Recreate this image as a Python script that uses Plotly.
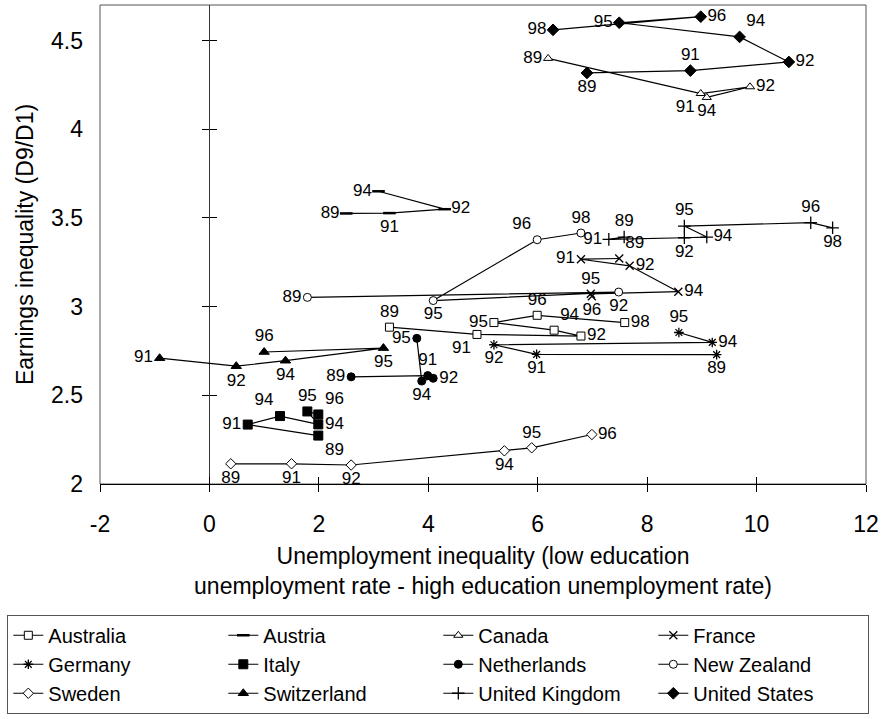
import plotly.graph_objects as go

# ---------------- data ----------------
australia_years = ["89", "91", "92", "94", "95", "96", "98"]
australia_x = [3.29, 4.89, 6.79, 6.30, 5.20, 5.99, 7.59]
australia_y = [2.884, 2.843, 2.834, 2.867, 2.910, 2.951, 2.910]

austria_years = ["89", "91", "92", "94"]
austria_x = [2.50, 3.29, 4.30, 3.09]
austria_y = [3.525, 3.527, 3.549, 3.650]

canada_years = ["89", "91", "92", "94"]
canada_x = [6.19, 8.98, 9.88, 9.09]
canada_y = [4.399, 4.201, 4.239, 4.179]

france_years = ["89", "91", "92", "94", "95", "96"]
france_x = [7.49, 6.79, 7.68, 8.57, 6.97, 6.99]
france_y = [3.271, 3.267, 3.230, 3.084, 3.072, 3.058]

germany_years = ["89", "91", "92", "94", "95"]
germany_x = [9.27, 5.98, 5.20, 9.19, 8.58]
germany_y = [2.729, 2.731, 2.785, 2.798, 2.854]

italy_years = ["89", "91", "94", "94", "95", "96"]
italy_x = [1.99, 0.70, 1.29, 1.99, 1.79, 1.99]
italy_y = [2.273, 2.335, 2.383, 2.336, 2.409, 2.392]

netherlands_years = ["89", "91", "92", "94", "95"]
netherlands_x = [2.59, 3.99, 4.09, 3.88, 3.79]
netherlands_y = [2.604, 2.611, 2.596, 2.580, 2.821]

newzealand_years = ["89", "92", "95", "96", "98"]
newzealand_x = [1.79, 7.48, 4.09, 5.99, 6.79]
newzealand_y = [3.052, 3.082, 3.034, 3.377, 3.415]

sweden_years = ["89", "91", "92", "94", "95", "96"]
sweden_x = [0.39, 1.50, 2.59, 5.39, 5.89, 6.99]
sweden_y = [2.114, 2.114, 2.107, 2.187, 2.204, 2.279]

switzerland_years = ["91", "92", "94", "95", "96"]
switzerland_x = [-0.91, 0.49, 1.39, 3.18, 1.00]
switzerland_y = [2.709, 2.664, 2.695, 2.766, 2.744]

uk_years = ["89", "91", "92", "94", "95", "96", "98"]
uk_x = [7.58, 7.30, 8.68, 9.09, 8.68, 10.99, 11.39]
uk_y = [3.392, 3.379, 3.388, 3.392, 3.454, 3.473, 3.444]

us_years = ["89", "91", "92", "94", "95", "96", "98"]
us_x = [6.90, 8.79, 10.59, 9.69, 7.49, 8.98, 6.28]
us_y = [4.317, 4.330, 4.379, 4.520, 4.600, 4.634, 4.560]

x_tickvals = [-2, 0, 2, 4, 6, 8, 10, 12]
x_ticktext = ["-2", "0", "2", "4", "6", "8", "10", "12"]
y_tickvals = [2, 2.5, 3, 3.5, 4, 4.5]
y_ticktext = ["2", "2.5", "3", "3.5", "4", "4.5"]

x_title = "Unemployment inequality (low education<br>unemployment rate - high education unemployment rate)"
y_title = "Earnings inequality (D9/D1)"

# ---------------- styles ----------------
TC, BC, ML, MR, TL, TR, BL, BR = ("top center", "bottom center", "middle left",
                                  "middle right", "top left", "top right",
                                  "bottom left", "bottom right")
series = [
    ("Australia", australia_x, australia_y, australia_years,
     dict(symbol="square", color="white", size=8),
     [TC, BL, MR, TR, ML, TC, MR]),
    ("Austria", austria_x, austria_y, austria_years,
     dict(symbol="line-ew", color="black", size=9, line=dict(width=2.5, color="black")),
     [ML, BC, MR, ML]),
    ("Canada", canada_x, canada_y, canada_years,
     dict(symbol="triangle-up", color="white", size=8),
     [ML, BL, MR, BC]),
    ("France", france_x, france_y, france_years,
     dict(symbol="x-thin", color="black", size=8, line=dict(width=1.3, color="black")),
     [TR, ML, MR, MR, TC, BC]),
    ("Germany", germany_x, germany_y, germany_years,
     dict(symbol="asterisk", color="black", size=8, line=dict(width=1.3, color="black")),
     [BC, BC, BC, MR, TC]),
    ("Italy", italy_x, italy_y, italy_years,
     dict(symbol="square", color="black", size=9),
     [BR, ML, TL, MR, TC, TR]),
    ("Netherlands", netherlands_x, netherlands_y, netherlands_years,
     dict(symbol="circle", color="black", size=8),
     [ML, TC, MR, BC, ML]),
    ("New Zealand", newzealand_x, newzealand_y, newzealand_years,
     dict(symbol="circle", color="white", size=8),
     [ML, BC, BC, TL, TC]),
    ("Sweden", sweden_x, sweden_y, sweden_years,
     dict(symbol="diamond", color="white", size=8),
     [BC, BC, BC, BC, TC, MR]),
    ("Switzerland", switzerland_x, switzerland_y, switzerland_years,
     dict(symbol="triangle-up", color="black", size=9),
     [ML, BC, BC, BC, TC]),
    ("United Kingdom", uk_x, uk_y, uk_years,
     dict(symbol="cross-thin", color="black", size=9, line=dict(width=1.3, color="black")),
     [TC, ML, BC, MR, TC, TC, BC]),
    ("United States", us_x, us_y, us_years,
     dict(symbol="diamond", color="black", size=9),
     [BC, TC, MR, TR, ML, MR, ML]),
]

FONT = "Liberation Sans, Arial, sans-serif"

fig = go.Figure()
for name, xs, ys, labels, marker, tpos in series:
    m = dict(marker)
    if "line" not in m:
        m["line"] = dict(width=1, color="black")
    fig.add_trace(go.Scatter(
        x=xs, y=ys, name=name, mode="lines+markers+text",
        text=labels, textposition=tpos,
        textfont=dict(family=FONT, size=17, color="black"),
        line=dict(color="black", width=1.2),
        marker=m, cliponaxis=False,
    ))

# helper traces that carry the overlaid axes used for cross-style ticks
fig.add_trace(go.Scatter(x=[None], y=[None], xaxis="x2", yaxis="y", showlegend=False, hoverinfo="skip"))
fig.add_trace(go.Scatter(x=[None], y=[None], xaxis="x", yaxis="y2", showlegend=False, hoverinfo="skip"))
fig.add_trace(go.Scatter(x=[None], y=[None], xaxis="x", yaxis="y3", showlegend=False, hoverinfo="skip"))

x_range = [-2, 12]
y_range = [2, 4.7]

fig.update_layout(
    width=884, height=719,
    margin=dict(l=100, r=16, t=5, b=232),
    paper_bgcolor="white", plot_bgcolor="white",
    font=dict(family=FONT, color="black"),
    xaxis=dict(
        range=x_range, tickvals=x_tickvals, ticktext=x_ticktext,
        ticks="outside", ticklen=7, tickcolor="black", tickwidth=1,
        showline=True, linecolor="black", linewidth=1,
        zeroline=True, zerolinecolor="#333", zerolinewidth=1,
        showgrid=False, tickfont=dict(size=23), ticklabelstandoff=12,
        ticklabeloverflow="allow",
        title=dict(text=x_title, font=dict(size=23), standoff=12),
    ),
    xaxis2=dict(
        range=x_range, overlaying="x", anchor="y", side="bottom",
        tickvals=x_tickvals, ticks="inside", ticklen=7, tickcolor="black",
        showticklabels=False, showline=False, zeroline=False, showgrid=False,
    ),
    yaxis=dict(
        range=y_range, tickvals=y_tickvals, ticktext=y_ticktext,
        ticks="", showline=False, zeroline=False, showgrid=False,
        tickfont=dict(size=23), ticklabelstandoff=16,
        title=dict(text=y_title, font=dict(size=23), standoff=10),
    ),
    yaxis2=dict(
        range=y_range, overlaying="y", anchor="free", position=2 / 14, side="left",
        tickvals=y_tickvals, ticks="outside", ticklen=7, tickcolor="black",
        showticklabels=False, showline=False, zeroline=False, showgrid=False,
    ),
    yaxis3=dict(
        range=y_range, overlaying="y", anchor="free", position=2 / 14, side="left",
        tickvals=y_tickvals, ticks="inside", ticklen=7, tickcolor="black",
        showticklabels=False, showline=False, zeroline=False, showgrid=False,
    ),
    legend=dict(
        orientation="h", x=-0.121, xanchor="left", y=-0.273, yanchor="top",
        entrywidth=170, entrywidthmode="pixels",
        bordercolor="#555", borderwidth=1, bgcolor="white",
        font=dict(size=20, family=FONT), traceorder="normal",
        itemclick=False,
    ),
    shapes=[dict(type="rect", xref="paper", yref="paper", x0=0, x1=1, y0=0, y1=1,
                 line=dict(color="#555", width=1), layer="below")],
    showlegend=True,
)

# remove the browser's default body margin so the figure sits at the page origin
fig.write_html("out.html", config={"displayModeBar": False},
               post_script="document.body.style.margin='0';")
